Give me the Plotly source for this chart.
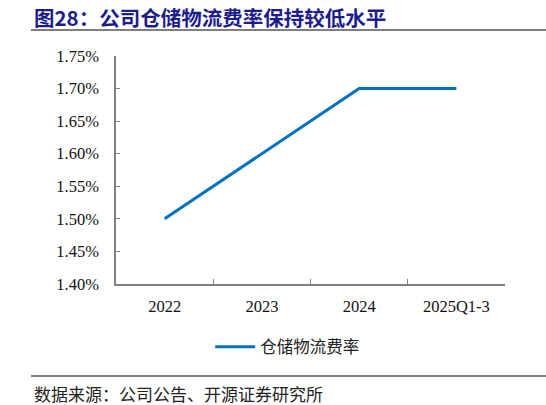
import plotly.graph_objects as go

categories = ["2022", "2023", "2024", "2025Q1-3"]
values = [1.50, 1.60, 1.70, 1.70]
series_name = "仓储物流费率"
y_ticks = [1.40, 1.45, 1.50, 1.55, 1.60, 1.65, 1.70, 1.75]
y_tick_labels = [f"{v:.2f}%" for v in y_ticks]
title_text = "图28：公司仓储物流费率保持较低水平"
source_text = "数据来源：公司公告、开源证券研究所"

W, H = 546, 405
L, R, T, B = 116, 505, 56, 284

def px(x):
    return (x - L) / (R - L)

def py(y):
    return (B - y) / (B - T)

CJK = "Noto Sans CJK SC"
SERIF = "Liberation Serif"

fig = go.Figure()
fig.add_trace(go.Scatter(
    x=categories, y=values, mode="lines", name=series_name,
    line=dict(color="#0070C0", width=3),
))

fig.update_layout(
    width=W, height=H,
    margin=dict(l=L, r=W - R, t=T, b=H - B, pad=0),
    paper_bgcolor="white", plot_bgcolor="white",
    showlegend=True,
    legend=dict(orientation="h", x=0.44, y=py(347), xanchor="center", yanchor="middle",
                font=dict(family=CJK, size=16.5, color="#222222"), itemwidth=40),
    xaxis=dict(type="category", showgrid=False, showline=True, linecolor="#7f7f7f", linewidth=1.5,
               ticks="inside", ticklen=5, tickcolor="#7f7f7f", tickson="boundaries",
               tickfont=dict(family=SERIF, size=16.5, color="#111111"), zeroline=False,
               ticklabelstandoff=6, range=[-0.5, 3.5]),
    yaxis=dict(range=[1.40, 1.75], tickmode="array", tickvals=y_ticks, ticktext=y_tick_labels,
               showgrid=False, showline=True, linecolor="#7f7f7f", linewidth=1.5,
               ticks="inside", ticklen=4, tickcolor="#7f7f7f", zeroline=False,
               ticklabelstandoff=12,
               tickfont=dict(family=SERIF, size=16.5, color="#111111")),
)

fig.add_annotation(x=px(32), y=py(17), xref="paper", yref="paper", text=f"<b>{title_text}</b>",
                   showarrow=False, xanchor="left", yanchor="middle",
                   font=dict(family=CJK, size=20.5, color="#1C1C8C"))
fig.add_annotation(x=px(32), y=py(393), xref="paper", yref="paper", text=source_text,
                   showarrow=False, xanchor="left", yanchor="middle",
                   font=dict(family=CJK, size=17, color="#222222"))
for yy in (30, 376):
    fig.add_shape(type="line", xref="paper", yref="paper", x0=px(31), x1=px(546), y0=py(yy), y1=py(yy),
                  line=dict(color="#555555", width=1.5))

fig.write_html("out.html", config={"displayModeBar": False},
               post_script="document.body.style.margin='0';document.body.style.padding='0';")
